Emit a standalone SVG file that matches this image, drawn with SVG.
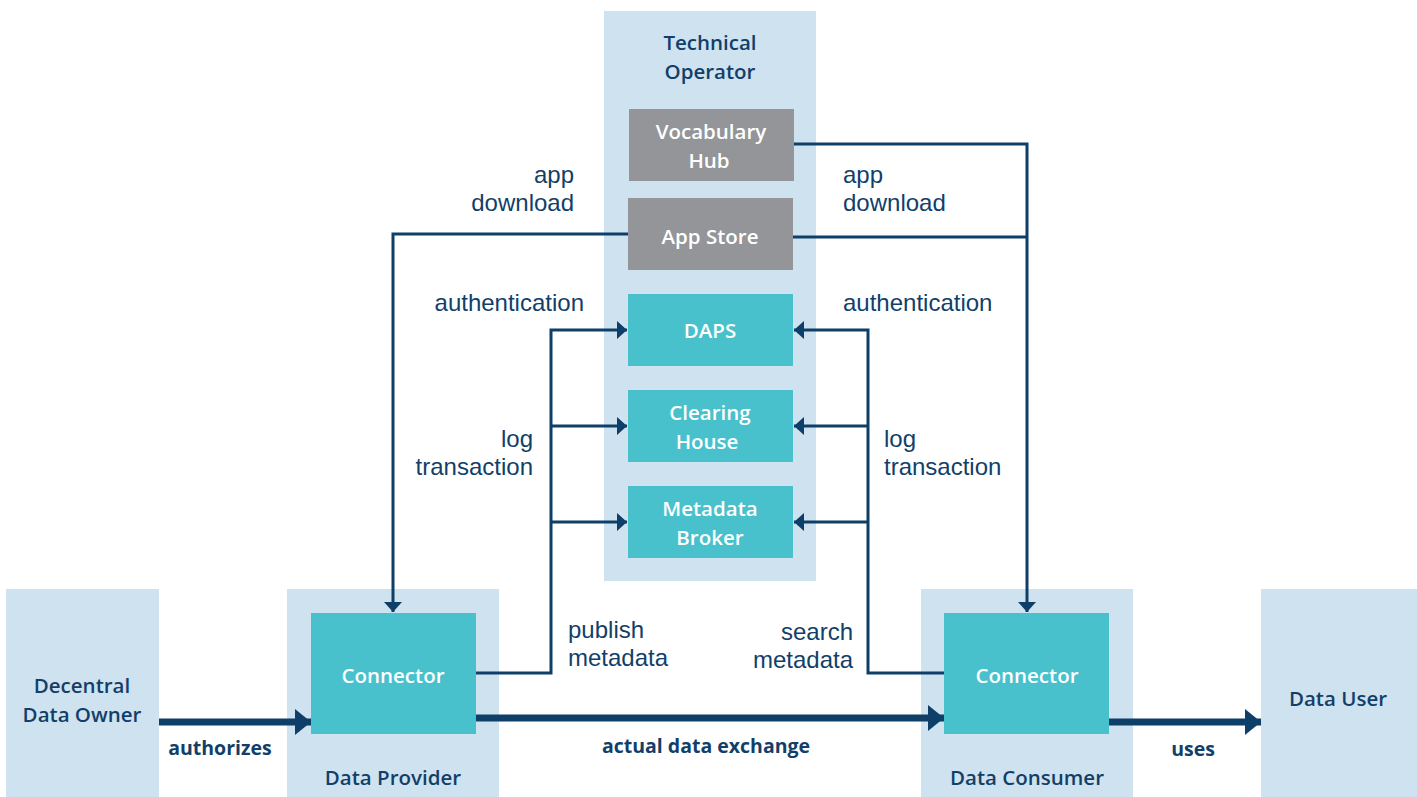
<svg xmlns="http://www.w3.org/2000/svg" width="1417" height="797" viewBox="0 0 1417 797">
<style>
.panel{fill:#cfe2ef}
.teal{fill:#48c1cc}
.gray{fill:#939598}
.bt{font-family:"Open Sans","Noto Sans",sans-serif;font-weight:600;font-size:20.5px;fill:#ffffff;text-anchor:middle;dominant-baseline:central}
.pt{font-family:"Open Sans","Noto Sans",sans-serif;font-weight:600;font-size:20.5px;fill:#123f69;text-anchor:middle;dominant-baseline:central}
.lbl{font-family:"Liberation Sans",Arial,sans-serif;font-size:24px;fill:#123f69;dominant-baseline:central}
.bl{font-family:"Open Sans","Noto Sans",sans-serif;font-weight:700;font-size:19.5px;fill:#123f69;text-anchor:middle;dominant-baseline:central}
.thin{fill:none;stroke:#0e3f69;stroke-width:3}
.thick{fill:none;stroke:#0e3f69;stroke-width:7}
</style>
<defs>
<marker id="ah" markerUnits="userSpaceOnUse" markerWidth="12" markerHeight="18" refX="10" refY="9" orient="auto">
<path d="M0,0 L10,9 L0,18 Z" fill="#0e3f69"/>
</marker>
<marker id="ahb" markerUnits="userSpaceOnUse" markerWidth="18" markerHeight="26" refX="16" refY="13" orient="auto">
<path d="M0,0 L16,13 L0,26 Z" fill="#0e3f69"/>
</marker>
</defs>

<g id="technical-operator">
<rect class="panel" x="604" y="11" width="212" height="570"/>
<text class="pt" x="710" y="42">Technical</text>
<text class="pt" x="710" y="71">Operator</text>
</g>
<g id="vocabulary-hub">
<rect class="gray" x="629" y="109" width="165" height="72"/>
<text class="bt" x="711" y="131">Vocabulary</text>
<text class="bt" x="709" y="160">Hub</text>
</g>
<g id="app-store">
<rect class="gray" x="628" y="198" width="165" height="72"/>
<text class="bt" x="710" y="236">App Store</text>
</g>
<g id="daps">
<rect class="teal" x="628" y="294" width="165" height="72"/>
<text class="bt" x="710" y="330">DAPS</text>
</g>
<g id="clearing-house">
<rect class="teal" x="628" y="390" width="165" height="72"/>
<text class="bt" x="710" y="412">Clearing</text>
<text class="bt" x="707" y="441">House</text>
</g>
<g id="metadata-broker">
<rect class="teal" x="628" y="486" width="165" height="72"/>
<text class="bt" x="710" y="508">Metadata</text>
<text class="bt" x="710" y="537">Broker</text>
</g>

<g id="decentral-data-owner">
<rect class="panel" x="6" y="589" width="153" height="208"/>
<text class="pt" x="82" y="685">Decentral</text>
<text class="pt" x="82" y="714">Data Owner</text>
</g>
<g id="data-provider">
<rect class="panel" x="287" y="589" width="212" height="208"/>
<text class="pt" x="393" y="777">Data Provider</text>
</g>
<g id="provider-connector">
<rect class="teal" x="311" y="613" width="165" height="121"/>
<text class="bt" x="393" y="675">Connector</text>
</g>
<g id="data-consumer">
<rect class="panel" x="921" y="589" width="212" height="208"/>
<text class="pt" x="1027" y="777">Data Consumer</text>
</g>
<g id="consumer-connector">
<rect class="teal" x="944" y="613" width="165" height="121"/>
<text class="bt" x="1027" y="675">Connector</text>
</g>
<g id="data-user">
<rect class="panel" x="1261" y="589" width="156" height="208"/>
<text class="pt" x="1338" y="698">Data User</text>
</g>

<g id="connectors">
<polyline class="thin" points="628,234 393,234 393,612" marker-end="url(#ah)"/>
<polyline class="thin" points="794,144 1027,144 1027,612" marker-end="url(#ah)"/>
<line class="thin" x1="793" y1="237" x2="1027" y2="237"/>
<polyline class="thin" points="476,673 551,673 551,330 627,330" marker-end="url(#ah)"/>
<line class="thin" x1="551" y1="426" x2="627" y2="426" marker-end="url(#ah)"/>
<line class="thin" x1="551" y1="522" x2="627" y2="522" marker-end="url(#ah)"/>
<polyline class="thin" points="944,673 868,673 868,330 794,330" marker-end="url(#ah)"/>
<line class="thin" x1="868" y1="426" x2="794" y2="426" marker-end="url(#ah)"/>
<line class="thin" x1="868" y1="522" x2="794" y2="522" marker-end="url(#ah)"/>
<line class="thick" x1="159" y1="722" x2="311" y2="722" marker-end="url(#ahb)"/>
<line class="thick" x1="476" y1="718" x2="944" y2="718" marker-end="url(#ahb)"/>
<line class="thick" x1="1109" y1="722" x2="1261" y2="722" marker-end="url(#ahb)"/>
</g>

<g id="labels">
<text class="lbl" x="574" y="174" text-anchor="end">app</text>
<text class="lbl" x="574" y="202" text-anchor="end">download</text>
<text class="lbl" x="843" y="174">app</text>
<text class="lbl" x="843" y="202">download</text>
<text class="lbl" x="584" y="302" text-anchor="end">authentication</text>
<text class="lbl" x="843" y="302">authentication</text>
<text class="lbl" x="533" y="438" text-anchor="end">log</text>
<text class="lbl" x="533" y="466" text-anchor="end">transaction</text>
<text class="lbl" x="884" y="438">log</text>
<text class="lbl" x="884" y="466">transaction</text>
<text class="lbl" x="568" y="629">publish</text>
<text class="lbl" x="568" y="657">metadata</text>
<text class="lbl" x="853" y="631" text-anchor="end">search</text>
<text class="lbl" x="853" y="659" text-anchor="end">metadata</text>
<text class="bl" x="220" y="747">authorizes</text>
<text class="bl" x="706" y="745">actual data exchange</text>
<text class="bl" x="1193" y="748">uses</text>
</g>
</svg>
